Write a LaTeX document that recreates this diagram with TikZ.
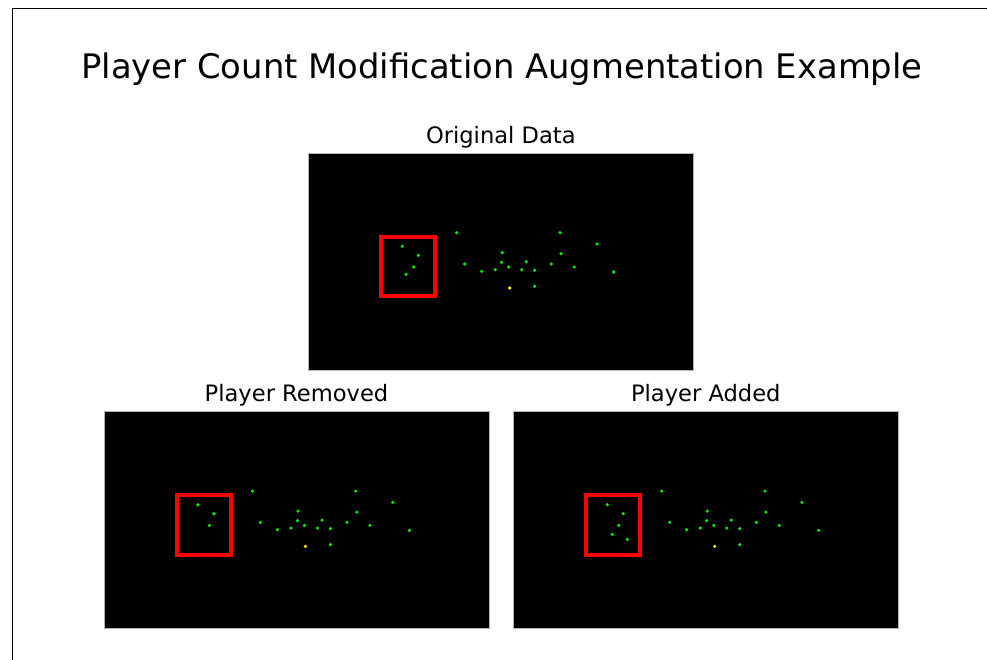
\documentclass[tikz,border=0pt]{standalone}
\usepackage{fontspec}
\setmainfont{DejaVu Sans}
\usetikzlibrary{positioning}
\definecolor{dotgreen}{RGB}{0,235,0}
\definecolor{dotyellow}{RGB}{255,235,0}
\tikzstyle{panel}=[draw=gray!60, line width=0.8pt, fill=black, minimum width=385pt, minimum height=217pt, inner sep=0pt, outer sep=0pt, anchor=north west]
\tikzstyle{player}=[circle, fill=dotgreen, inner sep=0pt, minimum size=3.6pt]
\tikzstyle{ball}=[player, fill=dotyellow]
\tikzstyle{roi}=[draw=red, line width=4pt, inner sep=0pt, outer sep=0pt, minimum width=54pt, minimum height=59.5pt, anchor=north west]
\tikzstyle{caption}=[font=\fontsize{22.6}{26}\selectfont, anchor=base, inner sep=0pt]
\newcommand{\player}{\node[player]}
% #1 name, #2 offset, #3 caption, #4 players inside the box
\newcommand{\pitch}[4]{
\begin{scope}[shift={#2}]
  \node[panel] (#1) at (0,0) {};
  \node[caption] (#1-title) at (192.5,-10) {#3};
  \node[roi] (#1-roi) at (73,83.4) {};
  \foreach \x/\y [count=\i] in {#4}
    \player (#1-in\i) at (\x,\y) {};
  \foreach \x/\y [count=\i] in {148.4/79.4, 251.7/79.4, 288.7/90.7, 194/99.4, 252.7/100.4,
      156.4/110.7, 193.4/109, 218/108.4, 243/110.7, 173.4/118, 187/116.4, 200.4/113.7,
      213.4/116.4, 226.4/117, 266/113.7, 305.4/118.7, 226.4/133}
    \player (#1-out\i) at (\x,\y) {};
  \node[ball] (#1-ball) at (201.4,134.7) {};
\end{scope}}

\begin{document}
\begin{tikzpicture}[x=1pt, y=-1pt]
\useasboundingbox (0,0) rectangle (987,660);
\draw[line width=1pt] (12.3,660) |- (987,9);
\node[font=\fontsize{33.8}{40}\selectfont, anchor=base, inner sep=0pt] (title) at (502,78.3)
  {Player Count Modification Augmentation Example};

\pitch{orig}{(308.3,153.3)}{Original Data}{94/93, 110/102, 105.4/113.7, 97.7/121}
\pitch{rem}{(104,411.7)}{Player Removed}{94/93, 110/102, 105.4/113.7}
\pitch{add}{(513.3,411.7)}{Player Added}{94/93, 110/102, 105.4/113.7, 99/122.7, 114/127.7}
\end{tikzpicture}
\end{document}
